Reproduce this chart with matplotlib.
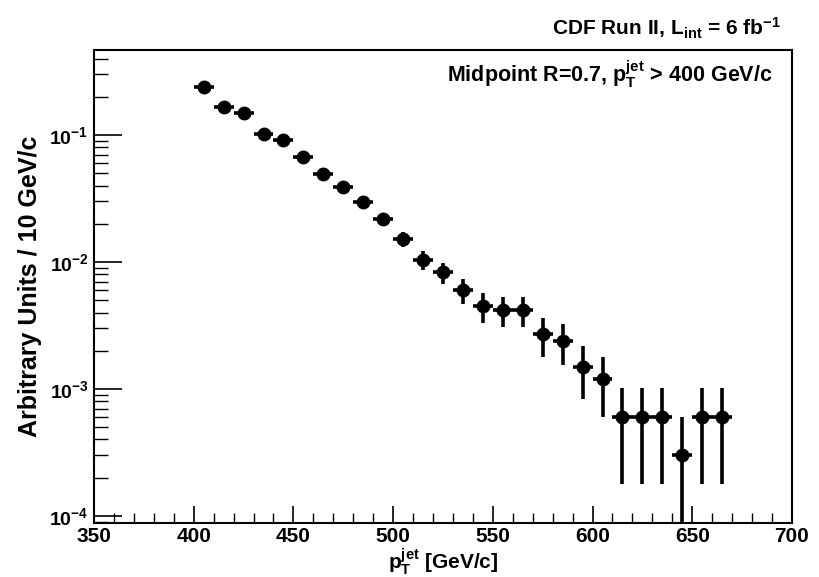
import matplotlib
matplotlib.use("Agg")
import matplotlib.pyplot as plt
from matplotlib.ticker import FixedLocator, LogLocator, NullFormatter, FuncFormatter
import numpy as np

FONT = 'Liberation Sans'
plt.rcParams['font.family'] = [FONT, 'DejaVu Sans']
plt.rcParams['font.weight'] = 'bold'
plt.rcParams['mathtext.fontset'] = 'custom'
plt.rcParams['mathtext.rm'] = FONT + ':bold'
plt.rcParams['mathtext.it'] = FONT + ':bold'
plt.rcParams['mathtext.bf'] = FONT + ':bold'
plt.rcParams['mathtext.sf'] = FONT + ':bold'

# data: bin centres (GeV/c), values (arbitrary units / 10 GeV/c)
pt_centres = [405, 415, 425, 435, 445, 455, 465, 475, 485, 495,
              505, 515, 525, 535, 545, 555, 565, 575, 585, 595,
              605, 615, 625, 635, 645, 655, 665]
values = [0.239, 0.166, 0.149, 0.102, 0.091, 0.067, 0.049, 0.039, 0.0297, 0.0218,
          0.0152, 0.0104, 0.0083, 0.0060, 0.0045, 0.0042, 0.0042, 0.0027, 0.0024, 0.0015,
          0.0012, 0.0006, 0.0006, 0.0006, 0.0003, 0.0006, 0.0006]
err_up = [0.0085, 0.0071, 0.0067, 0.0055, 0.0052, 0.0045, 0.0038, 0.0034, 0.0030, 0.0026,
          0.0021, 0.0018, 0.0016, 0.0013, 0.0012, 0.0011, 0.0011, 0.0009, 0.00085, 0.00067,
          0.0006, 0.00042, 0.00042, 0.00042, 0.0003, 0.00042, 0.00042]
err_down = [0.0085, 0.0071, 0.0067, 0.0055, 0.0052, 0.0045, 0.0038, 0.0034, 0.0030, 0.0026,
            0.0021, 0.0018, 0.0016, 0.0013, 0.0012, 0.0011, 0.0011, 0.0009, 0.00085, 0.00067,
            0.0006, 0.00042, 0.00042, 0.00042, 0.000299, 0.00042, 0.00042]
bin_half_width = [5] * len(pt_centres)

fig = plt.figure(figsize=(8.19, 5.77), dpi=100)
ax = fig.add_axes([0.1148, 0.0936, 0.8522, 0.8197])

ax.errorbar(pt_centres, values, yerr=[err_down, err_up], xerr=bin_half_width,
            fmt='o', color='black', markersize=9, elinewidth=2.6, capsize=0)

ax.set_yscale('log')
ax.set_xlim(350, 700)
ax.set_ylim(8.8e-5, 0.467)

for s in ax.spines.values():
    s.set_linewidth(1.5)

ax.xaxis.set_major_locator(FixedLocator([350, 400, 450, 500, 550, 600, 650, 700]))
ax.xaxis.set_minor_locator(FixedLocator(list(range(350, 701, 10))))
ax.yaxis.set_major_locator(LogLocator(base=10, numticks=10))
ax.yaxis.set_minor_locator(LogLocator(base=10, subs=np.arange(2, 10), numticks=20))
ax.yaxis.set_minor_formatter(NullFormatter())
ax.yaxis.set_major_formatter(FuncFormatter(
    lambda v, p: r'$\mathregular{10^{%d}}$' % int(round(np.log10(v)))))

ax.tick_params(axis='both', which='both', direction='in', top=False, right=False,
               labelsize=14)
ax.tick_params(axis='x', which='major', length=12, width=1.2, pad=3, labelsize=15)
ax.tick_params(axis='x', which='minor', length=7, width=1.0)
ax.tick_params(axis='y', which='major', length=20, width=1.2, pad=4)
ax.tick_params(axis='y', which='minor', length=10, width=1.0)

ax.set_xlabel(r'$\mathregular{p_{T}^{jet}}$ [GeV/c]', fontsize=15, fontweight='bold',
              labelpad=0)
ax.set_ylabel('Arbitrary Units / 10 GeV/c', fontsize=18, fontweight='bold', labelpad=5)

fig.text(0.954, 0.938, r'CDF Run II, $\mathregular{L_{int}}$ = 6 fb$\mathregular{^{-1}}$',
         ha='right', va='baseline', fontsize=15, fontweight='bold')
ax.text(0.973, 0.932, r'Midpoint R=0.7, $\mathregular{p_{T}^{jet}}$ > 400 GeV/c',
        transform=ax.transAxes, ha='right', va='baseline', fontsize=15.5, fontweight='bold')

fig.savefig('out.png', dpi=100)
